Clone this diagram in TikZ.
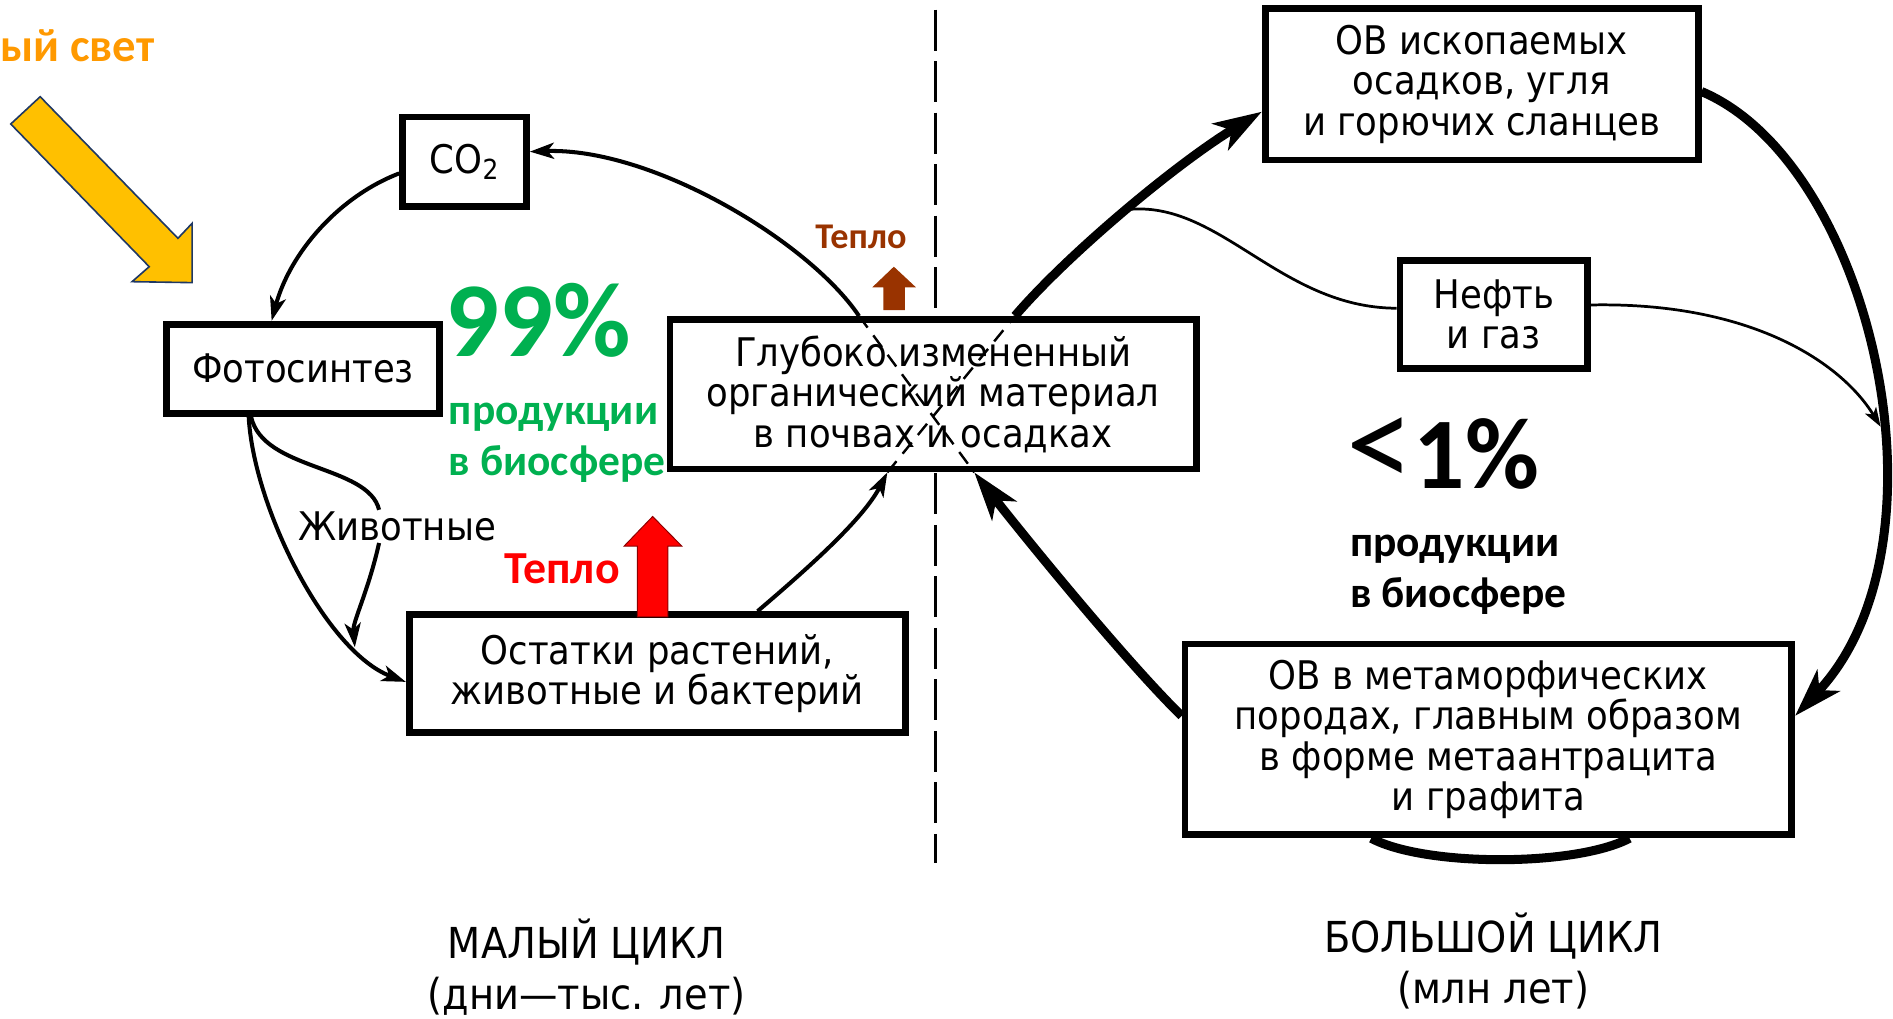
\documentclass[tikz,border=0pt]{standalone}
\usepackage{fontspec}
\setmainfont{DejaVu Sans Condensed}
\newfontfamily\calfont{Carlito}
\usetikzlibrary{arrows.meta,calc}

\definecolor{sunorange}{HTML}{FF9900}
\definecolor{sunyellow}{HTML}{FFC000}
\definecolor{sunedge}{HTML}{1F3864}
\definecolor{biogreen}{HTML}{00B050}
\definecolor{heatbrown}{HTML}{993300}
\definecolor{heatred}{HTML}{FF0000}

\newcommand{\scanfont}{\fontsize{24.5}{25}\selectfont}
\newcommand{\capfont}{\fontsize{26.5}{32}\selectfont}

\tikzset{
  cbox/.style={draw, line width=4.2pt, fill=white, align=center, inner sep=0pt, font=\scanfont},
  smallflow/.style={line width=2.5pt, -{Stealth[length=15pt,width=10pt,inset=4pt]}},
  bigflow/.style={line width=5.6pt, -{Stealth[length=30pt,width=19pt,inset=8pt]}},
  oilflow/.style={line width=1.7pt},
  crossline/.style={line width=1.5pt, dash pattern=on 9pt off 6pt},
}

\begin{document}
\begin{tikzpicture}[x=0.75pt,y=0.75pt,yscale=-1,xscale=1]
    \useasboundingbox (0,0) rectangle (1568,844);

    %Dashed divider [small / big cycle]
    \draw [line width=2pt, dash pattern=on 25.5pt off 6.5pt] (775,8) -- (775,715) ;

    %Shape: Block Arrow [sunlight]
    \draw [fill=sunyellow, draw=sunedge, line width=1pt] (8.9,102.7) -- (33.3,80.1) -- (147.4,197.4) -- (159.1,185) -- (159.1,234.1) -- (109.4,233.3) -- (123.6,220.9) -- cycle ;

    %Shape: Rectangle
    \node [cbox, minimum width=76.9pt, minimum height=55.5pt] (co2) at (384.8,134) {CO\textsubscript{2}};
    %Shape: Rectangle
    \node [cbox, minimum width=169.5pt, minimum height=55.5pt] (foto) at (251,305.5) {Фотосинтез};
    %Shape: Rectangle
    \node [cbox, minimum width=327pt, minimum height=93pt] (deep) at (773,326.5) {Глубоко измененный\\органический материал\\в почвах и осадках};
    %Shape: Rectangle
    \node [cbox, minimum width=308.3pt, minimum height=73.1pt] (ost) at (544.5,557.8) {Остатки растений,\\животные и бактерий};
    %Shape: Rectangle
    \node [cbox, minimum width=268.9pt, minimum height=94.1pt] (fossil) at (1227.3,69.8) {ОВ ископаемых\\осадков, угля\\и горючих сланцев};
    %Shape: Rectangle
    \node [cbox, minimum width=116.6pt, minimum height=67.1pt] (oil) at (1237.3,260.3) {Нефть\\и газ};
    %Shape: Rectangle
    \node [cbox, minimum width=376.9pt, minimum height=118.5pt] (meta) at (1232.8,612.5) {ОВ в метаморфических\\породах, главным образом\\в форме метаантрацита\\и графита};

    % Text Node
    \node [inner sep=1pt, font=\scanfont] (zhiv) at (329,436) {Животные};

    % crossing points on the deep box
    \coordinate (dTL) at ($(deep.north)+(-61.5,0)$);
    \coordinate (dTR) at ($(deep.north)+(67.7,0)$);
    \coordinate (dBL) at ($(deep.south)+(-38,0)$);
    \coordinate (dBR) at ($(deep.south)+(34,0)$);

    %Curve Lines [small cycle]
    \draw [smallflow] ($(co2.west)+(0,9.6)$) .. controls (280,163) and (240,210) .. ($(foto.north)+(-26,0)$) ;
    \draw [smallflow] (dTL) .. controls (670,200) and (540,122) .. ($(co2.east)+(0,-8.4)$) ;
    \draw [smallflow] ($(foto.south)+(-45,0)$) .. controls (210,420) and (270,540) .. ($(ost.west)+(0,7)$) coordinate [pos=0.78] (joinpt) ;
    \draw [line width=2.5pt] ($(foto.south)+(-43,0)$) .. controls (218,390) and (305,385) .. ($(zhiv.north)+(-15,0)$) ;
    \draw [smallflow] ($(zhiv.south)+(-15,0)$) .. controls (305,490) and (292,515) .. (joinpt) ;
    \draw [smallflow] ($(ost.north)+(83,0)$) .. controls (670,470) and (715,430) .. (dBL) ;

    %Curve Lines [big cycle]
    \draw [bigflow] ($(meta.west)+(0,-19.5)$) .. controls (930,545) and (845,440) .. (dBR) ;
    \draw [bigflow] (dTR) .. controls (885,210) and (975,135) .. ($(fossil.west)+(0,22.7)$) coordinate [pos=0.5] (oilfork) ;
    \draw [bigflow] ($(fossil.east)+(0,6)$) .. controls (1550,135) and (1622,450) .. ($(meta.east)+(0,-19.5)$) coordinate [pos=0.58] (arcpt) ;
    \draw [line width=5.6pt] ($(meta.south)+(-97,0)$) .. controls (1180,718) and (1305,718) .. ($(meta.south)+(117,0)$) ;
    \draw [oilflow] (oilfork) .. controls (1010,165) and (1060,255) .. ($(oil.west)+(0,-5)$) ;
    \draw [oilflow, -{Stealth[length=12pt,width=8pt,inset=3pt]}] ($(oil.east)+(0,-7.7)$) .. controls (1450,250) and (1525,300) .. (arcpt) ;

    %Straight Lines [crossing inside the deep box]
    \draw [crossline] (dTL) -- (dBR) ;
    \draw [crossline] (dBL) -- (dTR) ;

    %Shape: Block Arrow [heat]
    \draw [fill=heatred, draw=red!55!black, line width=0.6pt] (528,511) -- (528,452.3) -- (517,452.3) -- (540.6,427.8) -- (564.7,452.3) -- (553.2,452.3) -- (553.2,511) -- cycle ;
    %Shape: Block Arrow [heat]
    \fill [heatbrown] (731.8,256.8) -- (731.8,238) -- (722.5,238) -- (740.4,220.9) -- (758.7,238) -- (749.6,238) -- (749.6,256.8) -- cycle ;

    % Text Node
    \node [anchor=base west, inner sep=0pt, text=sunorange, font={\calfont\bfseries\fontsize{29}{30}\selectfont}] (sun) at (0,51) {ый свет};
    % Text Node
    \node [anchor=base west, inner sep=0pt, text=biogreen, font={\calfont\bfseries\fontsize{66}{70}\selectfont}] (pct99) at (369,295.4) {99\%};
    % Text Node
    \node [anchor=base west, inner sep=0pt, align=left, text=biogreen, font={\calfont\bfseries\fontsize{27}{31.5}\selectfont}] (prod99) at (371.5,393.5) {продукции\\в биосфере};
    % Text Node
    \node [anchor=base west, inner sep=0pt, font={\calfont\bfseries\fontsize{63}{64}\selectfont}] (pct1) at (1115,405) {{\mdseries\fontsize{84}{84}\selectfont<}1\%};
    % Text Node
    \node [anchor=base west, inner sep=0pt, align=left, font={\calfont\bfseries\fontsize{27}{31.5}\selectfont}] (prod1) at (1118,502.8) {продукции\\в биосфере};
    % Text Node
    \node [anchor=base, inner sep=0pt, text=heatred, font={\calfont\bfseries\fontsize{28.5}{30}\selectfont}] (heat1) at (465.6,483.4) {Тепло};
    % Text Node
    \node [anchor=base, inner sep=0pt, text=heatbrown, font={\calfont\bfseries\fontsize{22.5}{24}\selectfont}] (heat2) at (713.2,205.7) {Тепло};
    % Text Node
    \node [align=center, font=\capfont] (small) at (486,801) {МАЛЫЙ ЦИКЛ\\(дни—тыс. лет)};
    % Text Node
    \node [align=center, font=\capfont] (big) at (1237,796) {БОЛЬШОЙ ЦИКЛ\\(млн лет)};

\end{tikzpicture}
\end{document}
